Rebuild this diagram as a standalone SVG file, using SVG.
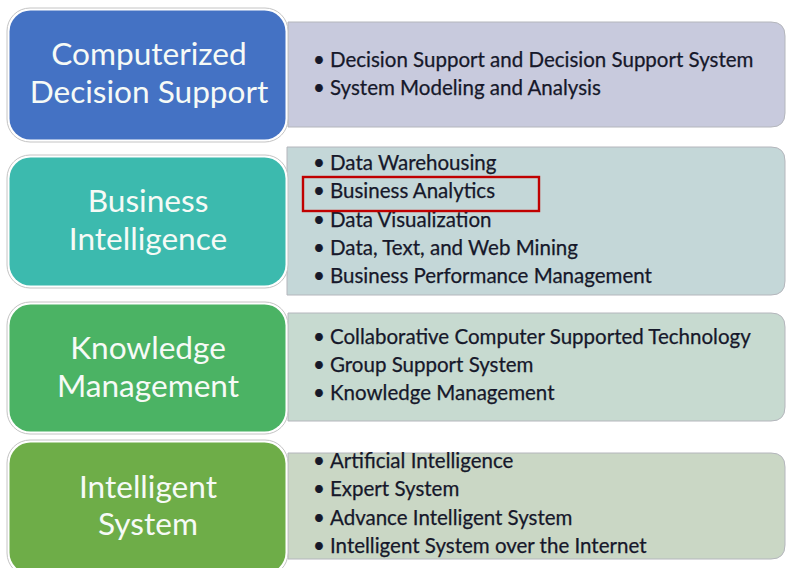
<svg xmlns="http://www.w3.org/2000/svg" width="786" height="568" viewBox="0 0 786 568">
<style>
.frame{fill:#ffffff;stroke:#c4c4c4;stroke-width:1}
.lbl{font-family:Lato,"Liberation Sans",sans-serif;font-size:31.6px;fill:#f6faf6;text-anchor:middle}
.item{font-family:Lato,"Liberation Sans",sans-serif;font-size:20.5px;fill:#16182a;stroke:#16182a;stroke-width:0.25}
.panel{stroke:#b4b6bc;stroke-width:1}
</style>
<rect width="786" height="568" fill="#ffffff"/>

<g id="panel-cds">
<path class="panel" fill="#c8cadd" d="M288,22 H771 Q785,22 785,36 V113 Q785,127 771,127 H288 Z"/>
<text class="item" y="67"><tspan x="313">•</tspan><tspan x="330">Decision Support and Decision Support System</tspan></text>
<text class="item" y="95"><tspan x="313">•</tspan><tspan x="330">System Modeling and Analysis</tspan></text>
</g>
<g id="panel-bi">
<path class="panel" fill="#c4d7d8" d="M287,147 H771 Q785,147 785,161 V281 Q785,295 771,295 H287 Z"/>
<text class="item" y="170"><tspan x="313">•</tspan><tspan x="330">Data Warehousing</tspan></text>
<text class="item" y="198"><tspan x="313">•</tspan><tspan x="330">Business Analytics</tspan></text>
<text class="item" y="227"><tspan x="313">•</tspan><tspan x="330">Data Visualization</tspan></text>
<text class="item" y="255"><tspan x="313">•</tspan><tspan x="330">Data, Text, and Web Mining</tspan></text>
<text class="item" y="283"><tspan x="313">•</tspan><tspan x="330">Business Performance Management</tspan></text>
<rect x="303" y="177" width="236" height="34" fill="none" stroke="#c00000" stroke-width="2.4"/>
</g>
<g id="panel-km">
<path class="panel" fill="#c7dad0" d="M288,313 H771 Q785,313 785,327 V407 Q785,421 771,421 H288 Z"/>
<text class="item" y="344"><tspan x="313">•</tspan><tspan x="330">Collaborative Computer Supported Technology</tspan></text>
<text class="item" y="372"><tspan x="313">•</tspan><tspan x="330">Group Support System</tspan></text>
<text class="item" y="400"><tspan x="313">•</tspan><tspan x="330">Knowledge Management</tspan></text>
</g>
<g id="panel-is">
<path class="panel" fill="#cad7c5" d="M288,453 H771 Q785,453 785,467 V545 Q785,559 771,559 H288 Z"/>
<text class="item" y="468"><tspan x="313">•</tspan><tspan x="330">Artificial Intelligence</tspan></text>
<text class="item" y="496"><tspan x="313">•</tspan><tspan x="330">Expert System</tspan></text>
<text class="item" y="525"><tspan x="313">•</tspan><tspan x="330">Advance Intelligent System</tspan></text>
<text class="item" y="553"><tspan x="313">•</tspan><tspan x="330">Intelligent System over the Internet</tspan></text>
</g>

<g id="box-cds">
<rect class="frame" x="7" y="8" width="281" height="134" rx="23"/>
<rect x="9.5" y="10.5" width="276" height="129" rx="21" fill="#4472c4"/>
<text class="lbl" x="149" y="65">Computerized</text>
<text class="lbl" x="149" y="103">Decision Support</text>
</g>
<g id="box-bi">
<rect class="frame" x="7" y="155" width="281" height="133" rx="23"/>
<rect x="9.5" y="157.5" width="276" height="128" rx="21" fill="#3cbaae"/>
<text class="lbl" x="148" y="212">Business</text>
<text class="lbl" x="148" y="250">Intelligence</text>
</g>
<g id="box-km">
<rect class="frame" x="7" y="302" width="281" height="132" rx="23"/>
<rect x="9.5" y="304.5" width="276" height="127" rx="21" fill="#4bb364"/>
<text class="lbl" x="148" y="359">Knowledge</text>
<text class="lbl" x="148" y="397">Management</text>
</g>
<g id="box-is">
<rect class="frame" x="7" y="440" width="281" height="136" rx="23"/>
<rect x="9.5" y="442.5" width="276" height="131" rx="21" fill="#6ead48"/>
<text class="lbl" x="148" y="498">Intelligent</text>
<text class="lbl" x="148" y="535">System</text>
</g>
<g id="connectors"></g>
</svg>
